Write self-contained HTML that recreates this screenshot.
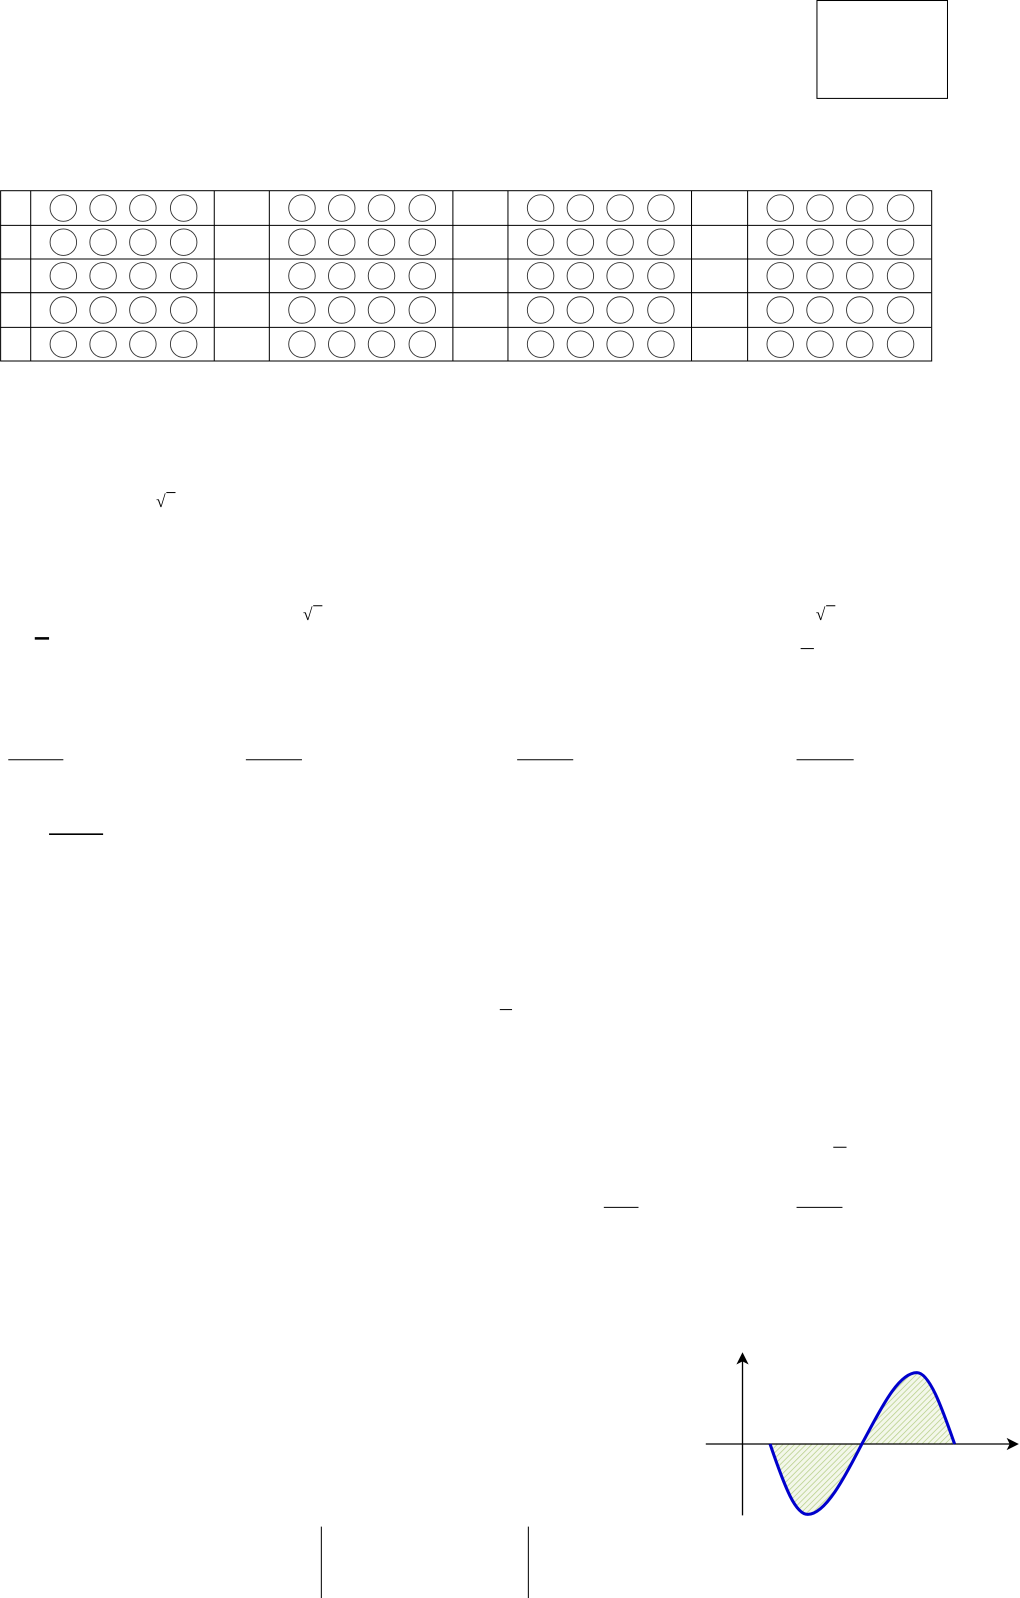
<!DOCTYPE html>
<html><head><meta charset="utf-8"><style>html,body{margin:0;padding:0;background:#fff;}svg{display:block}</style></head>
<body>
<svg width="1020" height="1598" viewBox="0 0 1000 1567" xmlns="http://www.w3.org/2000/svg">
<defs>
<pattern id="h" width="4" height="4" patternUnits="userSpaceOnUse" patternTransform="rotate(45)">
<rect width="4" height="4" fill="#f3f7ea"/><line x1="0" y1="0" x2="0" y2="4" stroke="#b9d08c" stroke-width="1.5"/>
</pattern>
</defs>
<rect x="801" y="0.5" width="128" height="96" fill="none" stroke="#000" stroke-width="1"/>
<g stroke="#000" stroke-width="1" fill="none">
<rect x="0.5" y="187" width="913" height="167"/>
<line x1="0" y1="221" x2="913" y2="221"/><line x1="0" y1="254" x2="913" y2="254"/>
<line x1="0" y1="287" x2="913" y2="287"/><line x1="0" y1="321" x2="913" y2="321"/>
<line x1="30" y1="187" x2="30" y2="354"/><line x1="210" y1="187" x2="210" y2="354"/>
<line x1="264" y1="187" x2="264" y2="354"/><line x1="444" y1="187" x2="444" y2="354"/>
<line x1="498" y1="187" x2="498" y2="354"/><line x1="678" y1="187" x2="678" y2="354"/>
<line x1="733" y1="187" x2="733" y2="354"/>
</g>
<g stroke="#333" stroke-width="0.9" fill="none" id="c">
</g>
<script>
(function(){var g=document.getElementById('c');var ox=[0,234,468,703];var xs=[62,101,140,180];var ys=[204,237.5,270.5,304,337.5];
ox.forEach(function(o){xs.forEach(function(x){ys.forEach(function(y){var c=document.createElementNS('http://www.w3.org/2000/svg','circle');c.setAttribute('cx',x+o);c.setAttribute('cy',y);c.setAttribute('r',13);g.appendChild(c);});});});})();
</script>
<g fill="#000" font-family="Liberation Serif, serif" font-size="17">
<text x="153" y="497">√</text><text x="297" y="608">√</text><text x="800" y="608">√</text>
</g>
<g stroke="#000" stroke-width="1">
<line x1="163" y1="483" x2="172" y2="483"/><line x1="307" y1="594" x2="316" y2="594"/><line x1="810" y1="594" x2="819" y2="594"/>
<line x1="8" y1="745" x2="62" y2="745"/><line x1="241" y1="745" x2="296" y2="745"/>
<line x1="507" y1="745" x2="562" y2="745"/><line x1="781" y1="745" x2="837" y2="745"/>
<line x1="48" y1="818" x2="101" y2="818" stroke-width="1.5"/>
<line x1="592" y1="1184" x2="626" y2="1184"/><line x1="781" y1="1184" x2="826" y2="1184"/>
<line x1="785" y1="636" x2="798" y2="636"/>
<line x1="490" y1="990" x2="502" y2="990"/><line x1="817" y1="1125" x2="830" y2="1125"/>
<line x1="315" y1="1497" x2="315" y2="1567"/><line x1="518" y1="1497" x2="518" y2="1567"/>
</g>
<line x1="34" y1="626" x2="48" y2="626" stroke="#000" stroke-width="2.5"/>
<path d="M755 1416 C770 1460 780 1485 792 1485 C810 1485 830 1445 845 1416 C862 1385 880 1346 899 1346 C912 1346 925 1385 936 1416 Z" fill="url(#h)"/>
<g stroke="#000" stroke-width="1.3" fill="none">
<line x1="728" y1="1333" x2="728" y2="1486"/><line x1="692" y1="1416" x2="992" y2="1416"/>
</g>
<path d="M728 1326 L722 1338 L728 1335 L734 1338 Z" fill="#000"/>
<path d="M999 1416 L987 1410 L990 1416 L987 1422 Z" fill="#000"/>
<path d="M755 1416 C770 1460 780 1485 792 1485 C810 1485 830 1445 845 1416 C862 1385 880 1346 899 1346 C912 1346 925 1385 936 1416" fill="none" stroke="#0000cc" stroke-width="3"/>
</svg>
</body></html>
